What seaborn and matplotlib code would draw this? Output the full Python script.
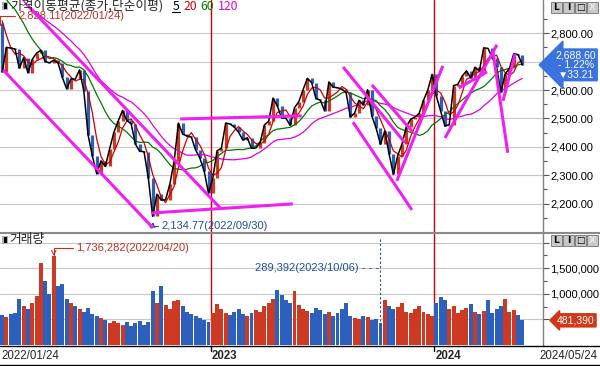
import numpy as np
import pandas as pd
import matplotlib
matplotlib.use("Agg")
import matplotlib.pyplot as plt
import matplotlib.transforms as mtransforms
from matplotlib.patches import Rectangle
from matplotlib.lines import Line2D
from matplotlib.ticker import FuncFormatter, FixedLocator
import seaborn as sns

# ---------------- data (weekly closes) ----------------
prior_close = [3270.36, 3171.29, 3060.51, 3133.90, 3201.06, 3125.76, 3140.51, 3125.24,
               3019.18, 2956.30, 3015.06, 3006.16, 2970.68, 2969.27, 2968.80, 2971.02,
               2936.44, 2968.33, 3010.23, 3017.73, 3012.43, 2977.65, 2954.89, 2921.92,
               2834.29]
close_2022 = [2663.34, 2750.26, 2747.71, 2744.09, 2676.76, 2713.43, 2661.28, 2707.64,
              2729.98, 2739.85, 2700.39, 2696.06, 2704.71, 2695.05, 2644.51, 2604.24,
              2639.29, 2638.05, 2670.65, 2595.87, 2440.93, 2366.60, 2305.42, 2350.61,
              2330.98, 2393.14, 2451.50, 2490.80, 2527.94, 2492.69, 2481.03, 2409.41,
              2384.28, 2382.78, 2290.00, 2155.49, 2232.84, 2212.55, 2213.12, 2268.40,
              2348.35, 2483.16, 2444.48, 2437.86, 2434.33, 2389.04, 2360.02, 2313.69,
              2236.40]
close_2023 = [2289.97, 2386.09, 2395.26, 2484.02, 2480.40, 2469.49, 2451.21, 2423.61,
              2432.07, 2394.59, 2395.69, 2414.96, 2476.86, 2490.41, 2571.49, 2544.40,
              2501.53, 2500.94, 2475.42, 2537.79, 2558.81, 2601.36, 2641.16, 2625.79,
              2570.10, 2564.28, 2526.71, 2628.30, 2609.76, 2608.32, 2602.80, 2591.26,
              2504.50, 2519.14, 2563.71, 2547.68, 2601.28, 2508.13, 2465.07, 2408.73,
              2456.15, 2375.00, 2302.81, 2368.34, 2409.66, 2469.85, 2496.63, 2505.01,
              2517.85, 2563.56, 2599.51, 2655.28]
close_2024 = [2578.08, 2525.05, 2472.74, 2478.56, 2615.31, 2620.32, 2648.76, 2667.70,
              2642.36, 2680.35, 2666.84, 2748.56, 2746.63, 2714.21, 2681.82, 2591.86,
              2656.33, 2676.63, 2727.63, 2724.62, 2688.60]
volume = [580000, 540000, 600000, 620000, 900000, 760000, 700000, 820000, 950000, 1600000,
          1250000, 1000000, 1736282, 1150000, 1200000, 900000, 820000, 760000, 700000, 650000,
          720000, 600000, 560000, 520000, 480000, 430000, 460000, 420000, 400000, 450000,
          380000, 420000, 460000, 400000, 450000, 1050000, 820000, 1150000, 780000, 700000,
          850000, 880000, 760000, 650000, 600000, 560000, 520000, 480000, 450000,
          620000, 800000, 700000, 620000, 580000, 650000, 700000, 600000, 560000, 620000,
          680000, 640000, 760000, 820000, 900000, 1080000, 980000, 880000, 820000, 1060000,
          780000, 700000, 660000, 620000, 720000, 680000, 600000, 640000, 560000, 620000,
          700000, 820000, 560000, 520000, 500000, 560000, 540000, 480000, 500000, 420000,
          880000, 760000, 700000, 740000, 820000, 650000, 620000, 700000, 760000, 640000,
          600000, 560000,
          820000, 940000, 880000, 700000, 760000, 620000, 680000, 720000, 800000, 640000,
          600000, 660000, 880000, 620000, 700000, 760000, 900000, 640000, 680000, 580000,
          481390]
ma_days = [5, 20, 60, 120]
ma_colors = ["#000000", "#d00000", "#007800", "#e000e0"]
year_labels = ["2023", "2024"]
year_start_week = [49, 101]
first_date, last_date = "2022/01/24", "2024/05/24"
high_val, high_week, high_date = 2828.11, 0, "2022/01/24"
low_val, low_week, low_date = 2134.77, 35, "2022/09/30"
vmax_val, vmax_week, vmax_date = 1736282, 12, "2022/04/20"
vmin_val, vmin_week, vmin_date = 289392, 88, "2023/10/06"
last_pct, last_chg = -1.22, -33.21
# user-drawn trend lines: (week, price) end points
trend_lines = [((6.3, 2900), (51.2, 2185)), ((0.7, 2671), (35.6, 2114)),
               ((35.3, 2167), (68.1, 2199)), ((41.9, 2498), (70.2, 2509)),
               ((79.8, 2681), (94.2, 2414)), ((82.1, 2487), (95.8, 2178)),
               ((86.5, 2618), (96.0, 2452)), ((92.3, 2280), (103.0, 2685)),
               ((103.5, 2431), (115.6, 2759)), ((106.7, 2607), (113.3, 2664)),
               ((114.7, 2731), (118.1, 2379)), ((117.0, 2562), (119.8, 2727))]

# ---------------- derived ----------------
close = close_2022 + close_2023 + close_2024
n = len(close)
allc = pd.Series(prior_close + close, dtype=float)
k = len(prior_close)
opens = allc.shift(1).iloc[k:].to_numpy()
closes = allc.iloc[k:].to_numpy()
x = np.arange(n) + 0.5
up = closes >= opens
RED, BLUE = "#cc3a24", "#2c60bc"
cols = np.where(up, RED, BLUE)

# ---------------- figure ----------------
sns.set_theme(style="white")
plt.rcParams['font.family'] = ['Noto Sans CJK KR', 'DejaVu Sans']
plt.rcParams['axes.unicode_minus'] = False
NUMF = ['Liberation Sans', 'DejaVu Sans']

W, H = 600, 366
fig = plt.figure(figsize=(6, 3.66), dpi=100)
fig.patch.set_facecolor('white')
fx = lambda px: px / W
fy = lambda py: 1 - py / H
AXR = 543
XMAX = 126.3

ax_p = fig.add_axes([0, fy(232), fx(AXR), 232 / H])
ax_v = fig.add_axes([0, fy(345), fx(AXR), (345 - 234) / H])
ax_d = fig.add_axes([0, 0, 1, 21 / H])

for ax in (ax_p, ax_v):
    ax.set_facecolor('white')
    ax.set_xlim(0, XMAX)
    for s in ('left', 'top', 'bottom'):
        ax.spines[s].set_visible(False)
    ax.spines['right'].set_color('#808080')
    ax.spines['right'].set_linewidth(1.0)
    ax.yaxis.tick_right()
    ax.set_xticks([])
    ax.tick_params(axis='y', which='both', direction='out', colors='#555555',
                   labelcolor='black', labelsize=8, pad=1)
    ax.tick_params(axis='y', which='major', length=4, width=0.8)
    ax.tick_params(axis='y', which='minor', length=3, width=0.8)
    for wk in year_start_week:
        ax.axvline(wk, color='#c80000', lw=1.0, zorder=1)

# price pane
ax_p.set_ylim(2100, 2917)
ax_p.yaxis.set_major_locator(FixedLocator(np.arange(2200, 2801, 100)))
ax_p.yaxis.set_minor_locator(FixedLocator(np.arange(2150, 2851, 100)))
# the 2,700 label sits under the current-price box, as in the reference
ax_p.yaxis.set_major_formatter(FuncFormatter(lambda v, p: "" if abs(v - 2700) < 1 else f"{v:,.2f}"))
for v in np.arange(2200, 2801, 100):
    ax_p.axhline(v, color='#c8c8c8', lw=0.8, zorder=0)

ax_p.vlines(x, np.minimum(opens, closes), np.maximum(opens, closes), colors=cols,
            lw=2.3, zorder=2)
for d, c, lw in reversed(list(zip(ma_days, ma_colors, [1.1, 0.9, 0.9, 0.9]))):
    ma = allc.rolling(max(1, d // 5)).mean().iloc[k:].to_numpy()
    sns.lineplot(x=x, y=ma, ax=ax_p, color=c, lw=lw, legend=False, zorder=3)
for (x0, y0), (x1, y1) in trend_lines:
    ax_p.plot([x0, x1], [y0, y1], color='#f020f0', lw=2.2, solid_capstyle='butt', zorder=4)

ax_p.annotate(f"{high_val:,.2f}({high_date})", xy=(high_week + 0.1, high_val),
              xytext=(13, 6.5), textcoords='offset points', color='#c03020', fontsize=8,
              family=NUMF, va='center',
              arrowprops=dict(arrowstyle='-', color='#c03020', lw=0.8,
                              connectionstyle='angle,angleA=0,angleB=90,rad=0',
                              shrinkA=0, shrinkB=0))
ax_p.annotate(f"{low_val:,.2f}({low_date})", xy=(low_week + 0.5, low_val),
              xytext=(6, -3), textcoords='offset points', color='#2050a0', fontsize=8,
              family=NUMF, va='center',
              arrowprops=dict(arrowstyle='->', color='#2050a0', lw=0.8,
                              connectionstyle='angle,angleA=0,angleB=90,rad=0',
                              shrinkA=0, shrinkB=0))
ax_p.annotate(f"{close[-1]:,.2f}\n- {abs(last_pct):.2f}%\n▼{abs(last_chg):.2f}",
              xy=(1.0, close[-1]), xycoords=('axes fraction', 'data'),
              xytext=(23.5, 0), textcoords='offset points', ha='center', va='center',
              color='white', fontsize=7.5, family=NUMF, linespacing=0.95,
              annotation_clip=False,
              bbox=dict(boxstyle='larrow,pad=0.12', fc='#3a72e0', ec='#3a72e0'))

# volume pane
ax_v.set_ylim(0, 2.167e6)
ax_v.yaxis.set_major_locator(FixedLocator([500000, 1000000, 1500000, 2000000]))
ax_v.yaxis.set_minor_locator(FixedLocator([750000, 1250000, 1750000]))
ax_v.yaxis.set_major_formatter(FuncFormatter(
    lambda v, p: "" if (v > 1.9e6 or v < 0.6e6) else f"{v:,.0f}"))
for v in [500000, 1000000, 1500000, 2000000]:
    ax_v.axhline(v, color='#c8c8c8', lw=0.8, zorder=0)
ax_v.bar(x, volume, width=0.92, color=cols, linewidth=0, zorder=2)
ax_v.annotate(f"{vmax_val:,.0f}({vmax_date})", xy=(vmax_week + 0.5, vmax_val),
              xytext=(16, 6), textcoords='offset points', color='#c03020', fontsize=8,
              family=NUMF, va='center',
              arrowprops=dict(arrowstyle='->', color='#c03020', lw=0.8,
                              connectionstyle='angle,angleA=0,angleB=90,rad=0',
                              shrinkA=0, shrinkB=0))
ax_v.vlines(vmin_week + 0.5, vmin_val, 2.1e6, colors='#2050a0', lw=0.8,
            linestyles=(0, (2, 2)), zorder=3)
ax_v.annotate(f"{vmin_val:,.0f}({vmin_date}) - - -", xy=(vmin_week + 0.5, 1.5e6),
              xytext=(-1, 0), textcoords='offset points', color='#2050a0', fontsize=8,
              family=NUMF, ha='right', va='center')
ax_v.annotate(f"{volume[-1]:,.0f}", xy=(1.0, volume[-1]), xycoords=('axes fraction', 'data'),
              xytext=(23.5, 0), textcoords='offset points', ha='center', va='center',
              color='white', fontsize=7.5, family=NUMF, annotation_clip=False,
              bbox=dict(boxstyle='larrow,pad=0.15', fc='#d0381c', ec='#d0381c'))

for ax in (ax_p, ax_v):
    for lbl in ax.get_yticklabels():
        lbl.set_family(NUMF)

# date strip
ax_d.set_xlim(0, W)
ax_d.set_ylim(21, 0)
ax_d.axis('off')
ax_d.add_line(Line2D([0, W], [1, 1], color='black', lw=1.0))
ax_d.add_line(Line2D([0, W], [20, 20], color='black', lw=1.0))
ax_d.text(1, 11, first_date, fontsize=8.3, family=NUMF, va='center', ha='left')
ax_d.text(W - 2, 11, last_date, fontsize=8.3, family=NUMF, va='center', ha='right')
trans = mtransforms.blended_transform_factory(ax_v.transData, ax_d.transData)
for lab, wk in zip(year_labels, year_start_week):
    ax_d.add_line(Line2D([wk, wk], [1, 6], color='black', lw=1.0, transform=trans))
    ax_d.text(wk + 0.3, 11, lab, fontsize=8.3, family=NUMF, fontweight='bold',
              va='center', ha='left', transform=trans)

# pane separator
fig.add_artist(Line2D([0, 1], [fy(233), fy(233)], color='#8a8a8a', lw=1.5))

# headers
def icon(py):
    fig.add_artist(Rectangle((fx(2), fy(py + 4)), fx(6), 8 / H, fc='#b0b0b0', ec='none'))
    fig.add_artist(Rectangle((fx(3.5), fy(py + 3)), fx(3), 6 / H, fc='black', ec='none'))
icon(6)
icon(240)
fig.text(fx(10), fy(6), "가격이동평균(종가,단순이평)", fontsize=9.2, va='center', ha='left')
for lab, px, c in zip(["5", "20", "60", "120"], [173, 184, 200, 218], ma_colors):
    fig.text(fx(px), fy(6), lab, fontsize=8.8, va='center', ha='left', color=c)
fig.add_artist(Line2D([fx(172), fx(180)], [fy(12), fy(12)], color='black', lw=0.8))
fig.text(fx(9), fy(240), "거래량", fontsize=9.2, va='center', ha='left')

# pane buttons
def buttons(py):
    for i, s in enumerate(["L", "I", "□", "X"]):
        x0 = 551 + i * 12
        fig.add_artist(Rectangle((fx(x0), fy(py + 11)), fx(11), 11 / H,
                                 fc='#c8c8c8', ec='#707070', lw=0.6))
        fig.text(fx(x0 + 5.5), fy(py + 5.5), s, fontsize=6.5, ha='center', va='center',
                 family=['DejaVu Sans'], fontweight='bold',
                 color='#e8e8e8' if s == 'X' else 'black')
buttons(2)
buttons(235)

fig.savefig("out.png", dpi=100, facecolor='white')
